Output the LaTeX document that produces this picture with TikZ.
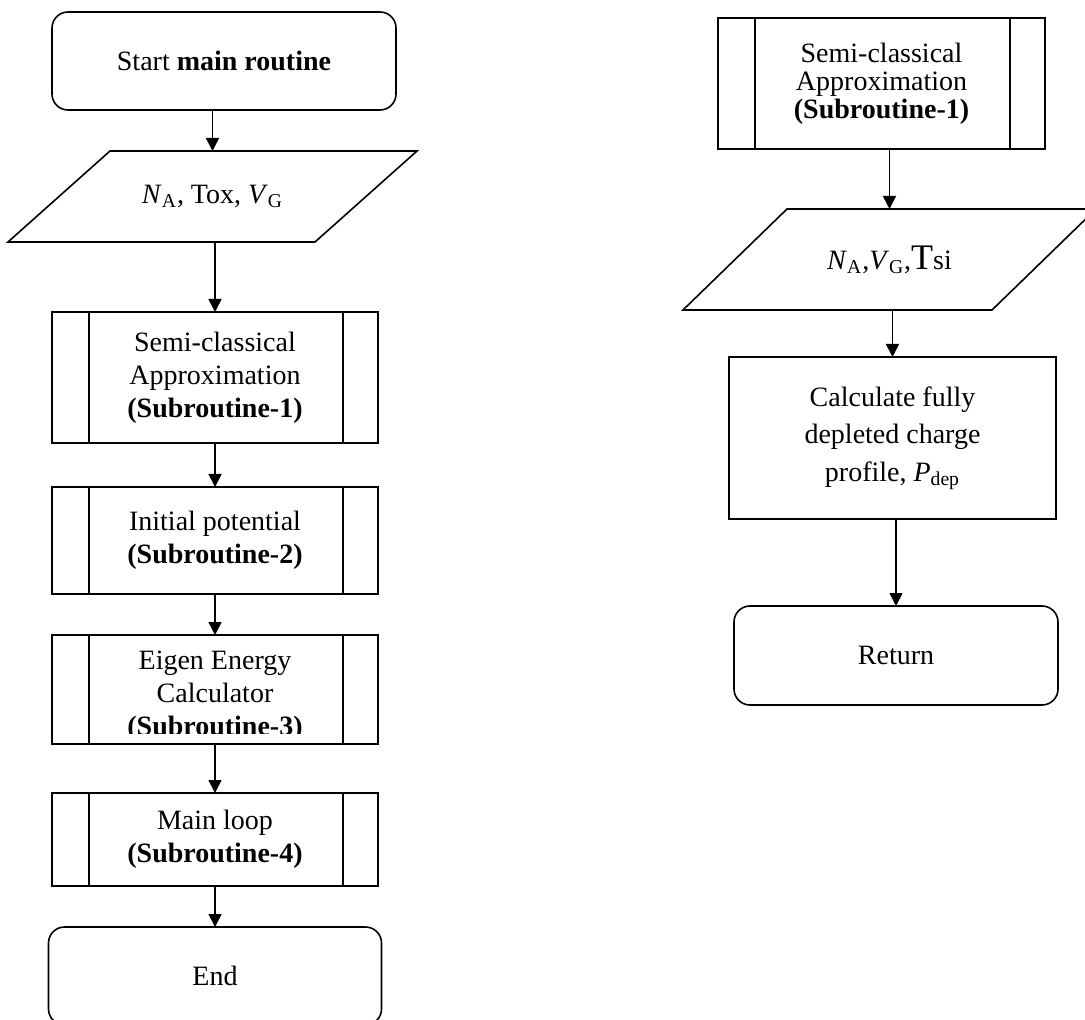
\documentclass[tikz,border=0pt]{standalone}
\usepackage{fontspec}
\setmainfont{Liberation Serif}
\usetikzlibrary{positioning,arrows.meta}

\tikzset{
  box/.style={draw, line width=0.8pt, align=center, inner sep=2pt, outer sep=0pt,
    font=\fontsize{14}{16.5}\selectfont},
  terminal/.style={box, rounded corners=8pt},
  process/.style={box},
  io/.style={box, draw=none},
  subproc/.style={box, path picture={
    \draw[line width=0.8pt]
      ([xshift=18.5pt]path picture bounding box.north west) --
      ([xshift=18.5pt]path picture bounding box.south west)
      ([xshift=-17.5pt]path picture bounding box.north east) --
      ([xshift=-17.5pt]path picture bounding box.south east);}},
  flow/.style={-{Triangle[length=6.5pt,width=6.5pt]}, line width=0.8pt},
}
% vertical arrow into the top of #2
\newcommand{\flowedge}[2]{\draw[flow] (#2.north |- #1.south) -- (#2.north);}
% slanted frame round an io node, legs reaching #2 to each side
\newcommand{\ioframe}[2]{\draw[line width=0.8pt]
  ([xshift=#2]#1.north west) -- ([xshift=#2]#1.north east) --
  ([xshift=-#2]#1.south east) -- ([xshift=-#2]#1.south west) -- cycle;}

\begin{document}
\begin{tikzpicture}[x=0.5pt, y=-0.5pt]
  \useasboundingbox (0,0) rectangle (1085,1020);

  % main routine
  \node[terminal, minimum width=172pt, minimum height=49pt] (start) at (224,61) {Start \textbf{main routine}};
  \node[io, minimum width=153.5pt, minimum height=45.5pt, below=20.5pt of start, xshift=-5.75pt] (input)
        {\textit{N}\textsubscript{A}, Tox, \textit{V}\textsubscript{G}};
  \ioframe{input}{25.5pt}
  \node[subproc, minimum width=163pt, minimum height=65.5pt, below=35pt of input, xshift=1.25pt] (sub1)
        {Semi-classical\\Approximation\\\textbf{(Subroutine-1)}};
  \node[subproc, minimum width=163pt, minimum height=53.5pt, below=22pt of sub1] (sub2)
        {Initial potential\\\textbf{(Subroutine-2)}};
  \node[subproc, minimum width=163pt, minimum height=54.5pt, below=20.5pt of sub2] (sub3) {};
  \begin{scope}
    \clip (sub3.north west) rectangle ([yshift=5.5pt]sub3.south east);
    \node[box, draw=none] (sub3txt) at ([yshift=-3.5pt]sub3.center)
          {Eigen Energy\\Calculator\\\textbf{(Subroutine-3)}};
  \end{scope}
  \node[subproc, minimum width=163pt, minimum height=46.5pt, below=24.5pt of sub3] (sub4)
        {Main loop\\\textbf{(Subroutine-4)}};
  \node[terminal, minimum width=166.5pt, minimum height=49pt, below=20.5pt of sub4] (finish) {End};

  \flowedge{start}{input}
  \flowedge{input}{sub1}
  \flowedge{sub1}{sub2}
  \flowedge{sub2}{sub3}
  \flowedge{sub3}{sub4}
  \flowedge{sub4}{finish}

  % subroutine 1
  \node[subproc, minimum width=163.5pt, minimum height=65.5pt, font=\fontsize{14}{14}\selectfont] (rsub1) at (881.5,83.5)
        {Semi-classical\\Approximation\\\textbf{(Subroutine-1)}};
  \node[io, minimum width=154.5pt, minimum height=50.5pt, below=30pt of rsub1, xshift=4pt] (rinput)
        {\textit{N}\textsubscript{A},\textit{V}\textsubscript{G},{\fontsize{18}{18}\selectfont T}si};
  \ioframe{rinput}{26pt}
  \node[process, minimum width=163.5pt, minimum height=81pt, below=23.5pt of rinput, xshift=1.5pt,
        font=\fontsize{14}{18.75}\selectfont] (charge)
        {Calculate fully\\depleted charge\\profile, \textit{P}\textsubscript{dep}};
  \node[terminal, minimum width=162pt, minimum height=49.5pt, below=43.5pt of charge, xshift=1.75pt] (ret) {Return};

  \flowedge{rsub1}{rinput}
  \flowedge{rinput}{charge}
  \flowedge{charge}{ret}
\end{tikzpicture}
\end{document}
